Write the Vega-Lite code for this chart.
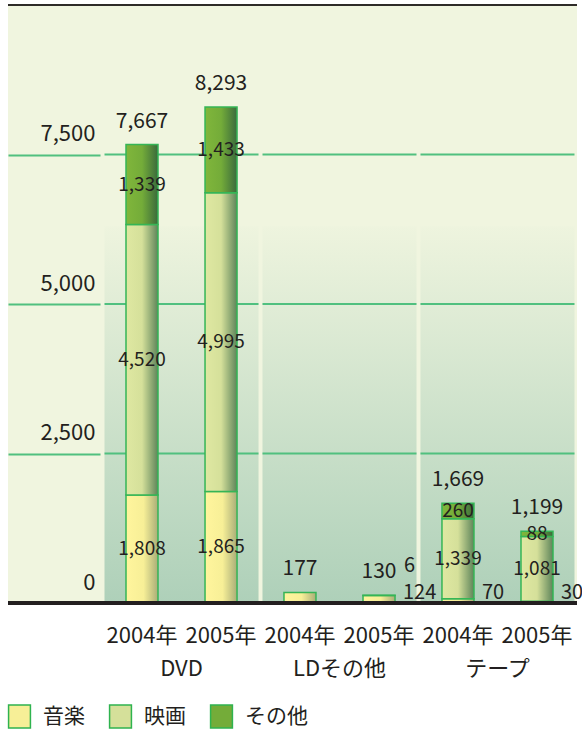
{
  "$schema": "https://vega.github.io/schema/vega-lite/v6.json",
  "width": 569,
  "height": 598,
  "autosize": {"type": "none"},
  "padding": {"left": 8, "top": 5, "right": 5, "bottom": 128},
  "background": "#ffffff",
  "config": {
    "view": {"fill": "#f0f5df", "stroke": null},
    "font": "Noto Sans CJK JP",
    "text": {"font": "Noto Sans CJK JP"}
  },
  "data": {
    "values": [
      {"group": "DVD", "year": "2004年", "cat": "音楽", "value": 1808},
      {"group": "DVD", "year": "2004年", "cat": "映画", "value": 4520},
      {"group": "DVD", "year": "2004年", "cat": "その他", "value": 1339},
      {"group": "DVD", "year": "2005年", "cat": "音楽", "value": 1865},
      {"group": "DVD", "year": "2005年", "cat": "映画", "value": 4995},
      {"group": "DVD", "year": "2005年", "cat": "その他", "value": 1433},
      {"group": "LDその他", "year": "2004年", "cat": "音楽", "value": 177},
      {"group": "LDその他", "year": "2005年", "cat": "音楽", "value": 124},
      {"group": "LDその他", "year": "2005年", "cat": "映画", "value": 6},
      {"group": "テープ", "year": "2004年", "cat": "音楽", "value": 70},
      {"group": "テープ", "year": "2004年", "cat": "映画", "value": 1339},
      {"group": "テープ", "year": "2004年", "cat": "その他", "value": 260},
      {"group": "テープ", "year": "2005年", "cat": "音楽", "value": 30},
      {"group": "テープ", "year": "2005年", "cat": "映画", "value": 1081},
      {"group": "テープ", "year": "2005年", "cat": "その他", "value": 88}
    ]
  },
  "transform": [
    {"stack": "value", "groupby": ["group", "year"], "sort": [{"field": "cat", "order": "descending"}], "as": ["v0", "v1"]},
    {"calculate": "(datum.v0 + datum.v1) / 2", "as": "mid"}
  ],
  "layer": [
    {
      "transform": [{"aggregate": [{"op": "count", "as": "n"}], "groupby": ["group"]}],
      "mark": {
        "type": "rect",
        "color": {
          "gradient": "linear", "x1": 0, "y1": 0, "x2": 0, "y2": 1,
          "stops": [
            {"offset": 0, "color": "#eef4de"},
            {"offset": 1, "color": "#aed0b9"}
          ]
        }
      },
      "encoding": {
        "x": {
          "field": "group",
          "type": "nominal",
          "sort": ["DVD", "LDその他", "テープ"],
          "scale": {"domain": ["DVD", "LDその他", "テープ"], "range": [96.5, 566.5], "paddingInner": 0.025, "paddingOuter": 0},
          "axis": {
            "title": null,
            "domain": false,
            "ticks": false,
            "tickSize": 0,
            "labelAngle": 0,
            "labelFontSize": 22,
            "labelColor": "#231f20",
            "labelFont": "Noto Sans CJK JP",
            "labelBaseline": "alphabetic",
            "labelPadding": 72
          }
        },
        "y": {
          "datum": 0,
          "type": "quantitative",
          "scale": {"domain": [0, 10000], "nice": false},
          "axis": {
            "title": null,
            "orient": "left",
            "offset": -92,
            "tickSize": 92,
            "tickColor": "#50c07f",
            "tickWidth": 2,
            "domain": false,
            "grid": false,
            "values": [0, 2500, 5000, 7500],
            "labelExpr": "format(datum.value, ',')",
            "labelAlign": "right",
            "labelPadding": -87,
            "labelBaseline": "alphabetic",
            "labelOffset": -14,
            "labelFontSize": 22,
            "labelFont": "Noto Sans CJK JP",
            "labelColor": "#231f20"
          }
        },
        "y2": {"datum": 6300}
      }
    },
    {
      "transform": [{"aggregate": [{"op": "count", "as": "n"}], "groupby": ["group"]}],
      "mark": {"type": "tick", "orient": "horizontal", "size": 154, "thickness": 2, "color": "#50c07f", "opacity": 1},
      "encoding": {"x": {"field": "group", "type": "nominal"}, "y": {"datum": 2500, "type": "quantitative"}}
    },
    {
      "transform": [{"aggregate": [{"op": "count", "as": "n"}], "groupby": ["group"]}],
      "mark": {"type": "tick", "orient": "horizontal", "size": 154, "thickness": 2, "color": "#50c07f", "opacity": 1},
      "encoding": {"x": {"field": "group", "type": "nominal"}, "y": {"datum": 5000, "type": "quantitative"}}
    },
    {
      "transform": [{"aggregate": [{"op": "count", "as": "n"}], "groupby": ["group"]}],
      "mark": {"type": "tick", "orient": "horizontal", "size": 154, "thickness": 2, "color": "#50c07f", "opacity": 1},
      "encoding": {"x": {"field": "group", "type": "nominal"}, "y": {"datum": 7500, "type": "quantitative"}}
    },
    {
      "mark": {"type": "bar", "strokeWidth": 0},
      "encoding": {
        "x": {"field": "group", "type": "nominal"},
        "xOffset": {"field": "year", "type": "nominal", "sort": ["2004年", "2005年"], "scale": {"paddingInner": 0.595, "paddingOuter": 0.272}},
        "y": {"field": "v0", "type": "quantitative"},
        "y2": {"field": "v1"},
        "color": {
          "field": "cat",
          "type": "nominal",
          "scale": {"domain": ["音楽", "映画", "その他"], "range": ["#f7ef97", "#d5e09a", "#74ac39"]},
          "legend": {
            "orient": "none",
            "legendX": -1,
            "legendY": 699,
            "direction": "horizontal",
            "title": null,
            "padding": 0,
            "symbolType": "M-0.95,-1H0.95V1H-0.95Z",
            "symbolSize": 529,
            "symbolStrokeColor": "#2fb34f",
            "symbolStrokeWidth": 1.5,
            "symbolOpacity": 1,
            "labelFontSize": 21,
            "labelFont": "Noto Sans CJK JP",
            "labelColor": "#231f20",
            "labelOffset": 11,
            "columnPadding": 21,
            "encode": {
              "symbols": {
                "update": {
                  "fill": [
                    {"test": "datum.value === '音楽'", "value": {"gradient": "linear", "x1": 0, "y1": 0, "x2": 1, "y2": 0, "stops": [{"offset": 0, "color": "#fff59d"}, {"offset": 0.55, "color": "#f7ef97"}, {"offset": 1, "color": "#a9ad78"}]}},
                    {"test": "datum.value === '映画'", "value": {"gradient": "linear", "x1": 0, "y1": 0, "x2": 1, "y2": 0, "stops": [{"offset": 0, "color": "#dfe8a2"}, {"offset": 0.5, "color": "#d5e09a"}, {"offset": 1, "color": "#5e845a"}]}},
                    {"value": {"gradient": "linear", "x1": 0, "y1": 0, "x2": 1, "y2": 0, "stops": [{"offset": 0, "color": "#80b63b"}, {"offset": 0.5, "color": "#74ac39"}, {"offset": 1, "color": "#3a6a3c"}]}}
                  ],
                  "stroke": {"value": "#2fb34f"},
                  "strokeWidth": {"value": 1.5},
                  "opacity": {"value": 1}
                }
              }
            }
          }
        }
      }
    },
    {
      "mark": {"type": "bar", "stroke": "#35b556", "strokeWidth": 1.5},
      "encoding": {
        "x": {"field": "group", "type": "nominal"},
        "xOffset": {"field": "year", "type": "nominal"},
        "y": {"field": "v0", "type": "quantitative"},
        "y2": {"field": "v1"},
        "fill": {
          "condition": [
            {"test": "datum.cat === '音楽'", "value": {"gradient": "linear", "x1": 0, "y1": 0, "x2": 1, "y2": 0, "stops": [{"offset": 0, "color": "#fff59d"}, {"offset": 0.55, "color": "#f7ef97"}, {"offset": 1, "color": "#a9ad78"}]}},
            {"test": "datum.cat === '映画'", "value": {"gradient": "linear", "x1": 0, "y1": 0, "x2": 1, "y2": 0, "stops": [{"offset": 0, "color": "#dfe8a2"}, {"offset": 0.5, "color": "#d5e09a"}, {"offset": 1, "color": "#5e845a"}]}}
          ],
          "value": {"gradient": "linear", "x1": 0, "y1": 0, "x2": 1, "y2": 0, "stops": [{"offset": 0, "color": "#80b63b"}, {"offset": 0.5, "color": "#74ac39"}, {"offset": 1, "color": "#3a6a3c"}]}
        }
      }
    },
    {
      "transform": [{"filter": "datum.value >= 80 && datum.group !== 'LDその他'"}],
      "mark": {"type": "text", "fontSize": 19, "color": "#231f20", "baseline": "middle"},
      "encoding": {
        "x": {"field": "group", "type": "nominal"},
        "xOffset": {"field": "year", "type": "nominal"},
        "y": {"field": "mid", "type": "quantitative"},
        "text": {"field": "value", "type": "quantitative", "format": ","}
      }
    },
    {
      "transform": [{"filter": "(datum.value < 80 && datum.value > 10) || (datum.group === 'LDその他' && datum.year === '2005年' && datum.cat === '音楽')"}],
      "mark": {"type": "text", "fontSize": 20, "color": "#231f20", "baseline": "alphabetic", "align": "left", "dx": 24, "dy": -4},
      "encoding": {
        "x": {"field": "group", "type": "nominal"},
        "xOffset": {"field": "year", "type": "nominal"},
        "y": {"field": "v0", "type": "quantitative"},
        "text": {"field": "value", "type": "quantitative", "format": ","}
      }
    },
    {
      "transform": [{"filter": "datum.value <= 10"}],
      "mark": {"type": "text", "fontSize": 20, "color": "#231f20", "baseline": "alphabetic", "align": "left", "dx": 25, "dy": -23},
      "encoding": {
        "x": {"field": "group", "type": "nominal"},
        "xOffset": {"field": "year", "type": "nominal"},
        "y": {"field": "v1", "type": "quantitative"},
        "text": {"field": "value", "type": "quantitative", "format": ","}
      }
    },
    {
      "transform": [{"aggregate": [{"op": "sum", "field": "value", "as": "total"}], "groupby": ["group", "year"]}],
      "mark": {"type": "text", "fontSize": 21, "color": "#231f20", "baseline": "alphabetic", "dy": -17},
      "encoding": {
        "x": {"field": "group", "type": "nominal"},
        "xOffset": {"field": "year", "type": "nominal"},
        "y": {"field": "total", "type": "quantitative"},
        "text": {"field": "total", "type": "quantitative", "format": ","}
      }
    },
    {
      "transform": [{"aggregate": [{"op": "sum", "field": "value", "as": "total"}], "groupby": ["group", "year"]}],
      "mark": {"type": "text", "fontSize": 22, "color": "#231f20", "baseline": "alphabetic", "dy": 40},
      "encoding": {
        "x": {"field": "group", "type": "nominal"},
        "xOffset": {"field": "year", "type": "nominal"},
        "y": {"datum": 0, "type": "quantitative"},
        "text": {"field": "year", "type": "nominal"}
      }
    },
    {
      "transform": [{"aggregate": [{"op": "count", "as": "n"}]}],
      "mark": {"type": "rule", "color": "#231f20", "strokeWidth": 4},
      "encoding": {"y": {"datum": 0, "type": "quantitative"}}
    },
    {
      "transform": [{"aggregate": [{"op": "count", "as": "n"}]}],
      "mark": {"type": "rule", "color": "#2e2b28", "strokeWidth": 2},
      "encoding": {"y": {"datum": 10000, "type": "quantitative"}}
    }
  ]
}
